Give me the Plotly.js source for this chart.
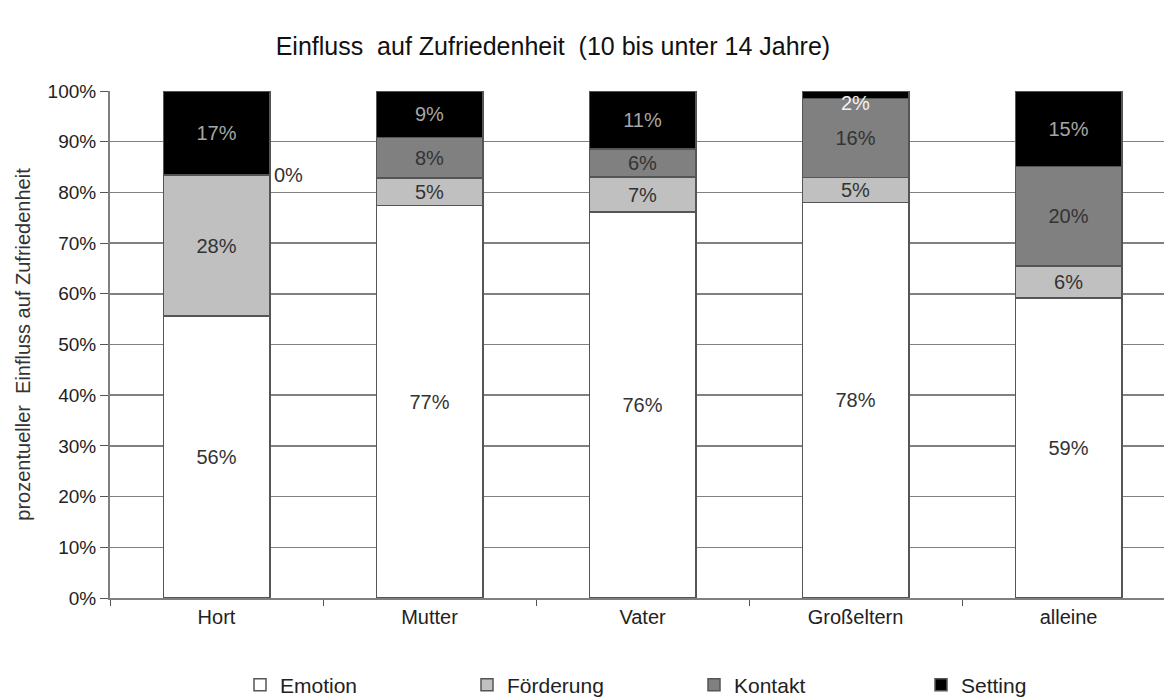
<!DOCTYPE html>
<html>
<head>
<meta charset="utf-8">
<script src="https://cdn.plot.ly/plotly-3.0.1.min.js"></script>
<style>
  html, body { margin: 0; padding: 0; background: #fff; overflow: hidden; }
  #chart { width: 1164px; height: 700px; }
</style>
</head>
<body>
<div id="chart"></div>
<script>
// Anteile in Prozent, je Betreuungsperson
var categories = ['Hort', 'Mutter', 'Vater', 'Großeltern', 'alleine'];
var emotion    = [55.6, 77.4, 76.1, 78.0, 59.2];
var foerderung = [27.8, 5.4, 6.9, 4.9, 6.3];
var kontakt    = [0, 8.0, 5.6, 15.6, 19.6];
var setting    = [16.6, 9.2, 11.4, 1.5, 14.9];

var seriesNames = ['Emotion', 'Förderung', 'Kontakt', 'Setting'];
var seriesValues = [emotion, foerderung, kontakt, setting];
var fillColors = ['#ffffff', '#c0c0c0', '#808080', '#000000'];
var textColors = ['#333333', '#333333', '#333333', '#a6a6a6'];

var font = 'Liberation Sans, Arial, sans-serif';

var data = [];
for (var s = 0; s < seriesNames.length; s++) {
    var vals = seriesValues[s];
    // zu kleine Segmente bekommen ihr Label als Annotation
    var pos = vals.map(function (v) { return v < 3 ? 'none' : 'inside'; });
    data.push({
        type: 'bar',
        name: seriesNames[s],
        x: categories,
        y: vals,
        marker: { color: fillColors[s], line: { color: '#555555', width: 1.5 } },
        texttemplate: '%{y:.0f}%',
        textposition: pos,
        insidetextanchor: 'middle',
        constraintext: 'none',
        textfont: { family: font, size: 20, color: textColors[s] },
        hoverinfo: 'skip'
    });
}

var annotations = [];
for (var i = 0; i < categories.length; i++) {
    if (kontakt[i] < 3) {
        annotations.push({
            x: i + 0.25, y: emotion[i] + foerderung[i],
            xref: 'x', yref: 'y', xanchor: 'left', yanchor: 'middle', xshift: 2,
            text: kontakt[i].toFixed(0) + '%', showarrow: false,
            font: { family: font, size: 20, color: '#333333' }
        });
    }
    if (setting[i] < 3) {
        annotations.push({
            x: i, y: emotion[i] + foerderung[i] + kontakt[i],
            xref: 'x', yref: 'y', xanchor: 'center', yanchor: 'middle', yshift: -4,
            text: setting[i].toFixed(0) + '%', showarrow: false,
            font: { family: font, size: 20, color: '#f2f2f2' }
        });
    }
}

var layout = {
    width: 1164,
    height: 700,
    paper_bgcolor: '#ffffff',
    plot_bgcolor: '#ffffff',
    barmode: 'stack',
    bargap: 0.5,
    margin: { l: 110, r: 0, t: 91, b: 102 },
    font: { family: font, size: 19, color: '#222222' },
    title: {
        text: 'Einfluss  auf Zufriedenheit  (10 bis unter 14 Jahre)',
        font: { family: font, size: 25, color: '#111111' },
        xref: 'container', x: 0.475, xanchor: 'center',
        yref: 'container', y: 1 - 46 / 700, yanchor: 'middle'
    },
    xaxis: {
        type: 'category',
        range: [-0.5, 4.448],
        showgrid: false,
        showline: true,
        linecolor: '#808080',
        linewidth: 2,
        ticks: 'outside',
        tickson: 'boundaries',
        ticklen: 6,
        tickcolor: '#555555',
        tickfont: { family: font, size: 20, color: '#222222' },
        fixedrange: true
    },
    yaxis: {
        range: [0, 100],
        dtick: 10,
        ticksuffix: '%',
        showgrid: true,
        gridcolor: '#808080',
        gridwidth: 1.5,
        zeroline: false,
        showline: true,
        linecolor: '#808080',
        linewidth: 2,
        ticks: 'outside',
        ticklen: 8,
        tickcolor: '#555555',
        tickfont: { family: font, size: 19, color: '#222222' },
        title: {
            text: 'prozentueller  Einfluss auf Zufriedenheit',
            font: { family: font, size: 20, color: '#333333' },
            standoff: 12
        },
        fixedrange: true
    },
    legend: {
        orientation: 'h',
        traceorder: 'normal',
        xref: 'container', x: 240 / 1164, xanchor: 'left',
        yref: 'container', y: 1 - 685 / 700, yanchor: 'middle',
        entrywidth: 182,
        entrywidthmode: 'pixels',
        itemwidth: 30,
        font: { family: font, size: 21, color: '#222222' }
    },
    annotations: annotations,
    showlegend: true
};

Plotly.newPlot('chart', data, layout, { displayModeBar: false, staticPlot: true });
</script>
</body>
</html>
